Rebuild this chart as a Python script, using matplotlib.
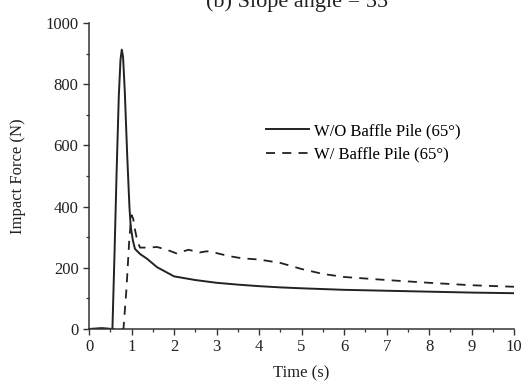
import matplotlib
matplotlib.use("Agg")
import matplotlib.pyplot as plt
from matplotlib.ticker import MultipleLocator

plt.rcParams['font.family'] = ['Liberation Serif', 'DejaVu Serif']

# Data
t_wo = [0.0, 0.3, 0.55, 0.6, 0.65, 0.7, 0.74, 0.77, 0.8, 0.84, 0.9, 0.95, 0.98, 1.03, 1.08,
        1.2, 1.36, 1.6, 2.0, 2.5, 3.0, 3.5, 4.0, 4.5, 5.0, 6.0, 7.0, 8.0, 9.0, 10.0]
f_wo = [0, 3, 0, 250, 520, 760, 880, 913, 890, 780, 560, 400, 336, 290, 262,
        245, 230, 202, 172, 160, 151, 145, 140, 136, 133, 128, 125, 122, 119, 117]

t_w = [0.0, 0.81, 0.88, 0.95, 1.0, 1.04, 1.08, 1.14, 1.2, 1.4, 1.6, 1.85, 2.06, 2.34, 2.6, 2.77,
       3.0, 3.3, 3.6, 4.0, 4.5, 5.0, 5.5, 6.0, 7.0, 8.0, 9.0, 10.0]
f_w = [0, 0, 130, 300, 372, 360, 325, 285, 266, 266, 268, 258, 247, 259, 250, 254,
       248, 238, 231, 227, 216, 196, 180, 170, 160, 151, 143, 138]

labels = ["W/O Baffle Pile (65°)", "W/ Baffle Pile (65°)"]

fig = plt.figure(figsize=(5.3, 3.81), dpi=100)
ax = fig.add_axes([0.168, 0.1365, 0.802, 0.8031])

ax.plot(t_wo, f_wo, color='#222222', lw=1.4, ls='-', label=labels[0])
ax.plot(t_w, f_w, color='#222222', lw=1.3, ls=(0, (5, 4)), label=labels[1])

ax.set_xlim(0, 10)
ax.set_ylim(0, 1000)
ax.xaxis.set_major_locator(MultipleLocator(1))
ax.xaxis.set_minor_locator(MultipleLocator(0.5))
ax.yaxis.set_major_locator(MultipleLocator(200))
ax.yaxis.set_minor_locator(MultipleLocator(100))

for s in ['top', 'right']:
    ax.spines[s].set_visible(False)
for s in ['left', 'bottom']:
    ax.spines[s].set_color('#333333')
    ax.spines[s].set_linewidth(1.1)

ax.tick_params(which='major', direction='out', length=4, width=1.0, colors='#333333',
               labelsize=12, labelcolor='#222222')
ax.tick_params(which='minor', direction='out', length=2.5, width=0.9, colors='#333333')

ax.set_xlabel("Time (s)", fontsize=12, color='#222222', labelpad=7)
ax.set_ylabel("Impact Force (N)", fontsize=12, color='#222222', labelpad=14)

ax.set_title("(b) Slope angle = 55°", fontsize=16, color='#222222', y=1.025)

leg = ax.legend(loc='upper left', bbox_to_anchor=(0.4, 0.695), frameon=False,
                fontsize=12, handlelength=2.6, handletextpad=0.3, labelspacing=0.45,
                borderaxespad=0)

fig.savefig("out.png", dpi=100)
